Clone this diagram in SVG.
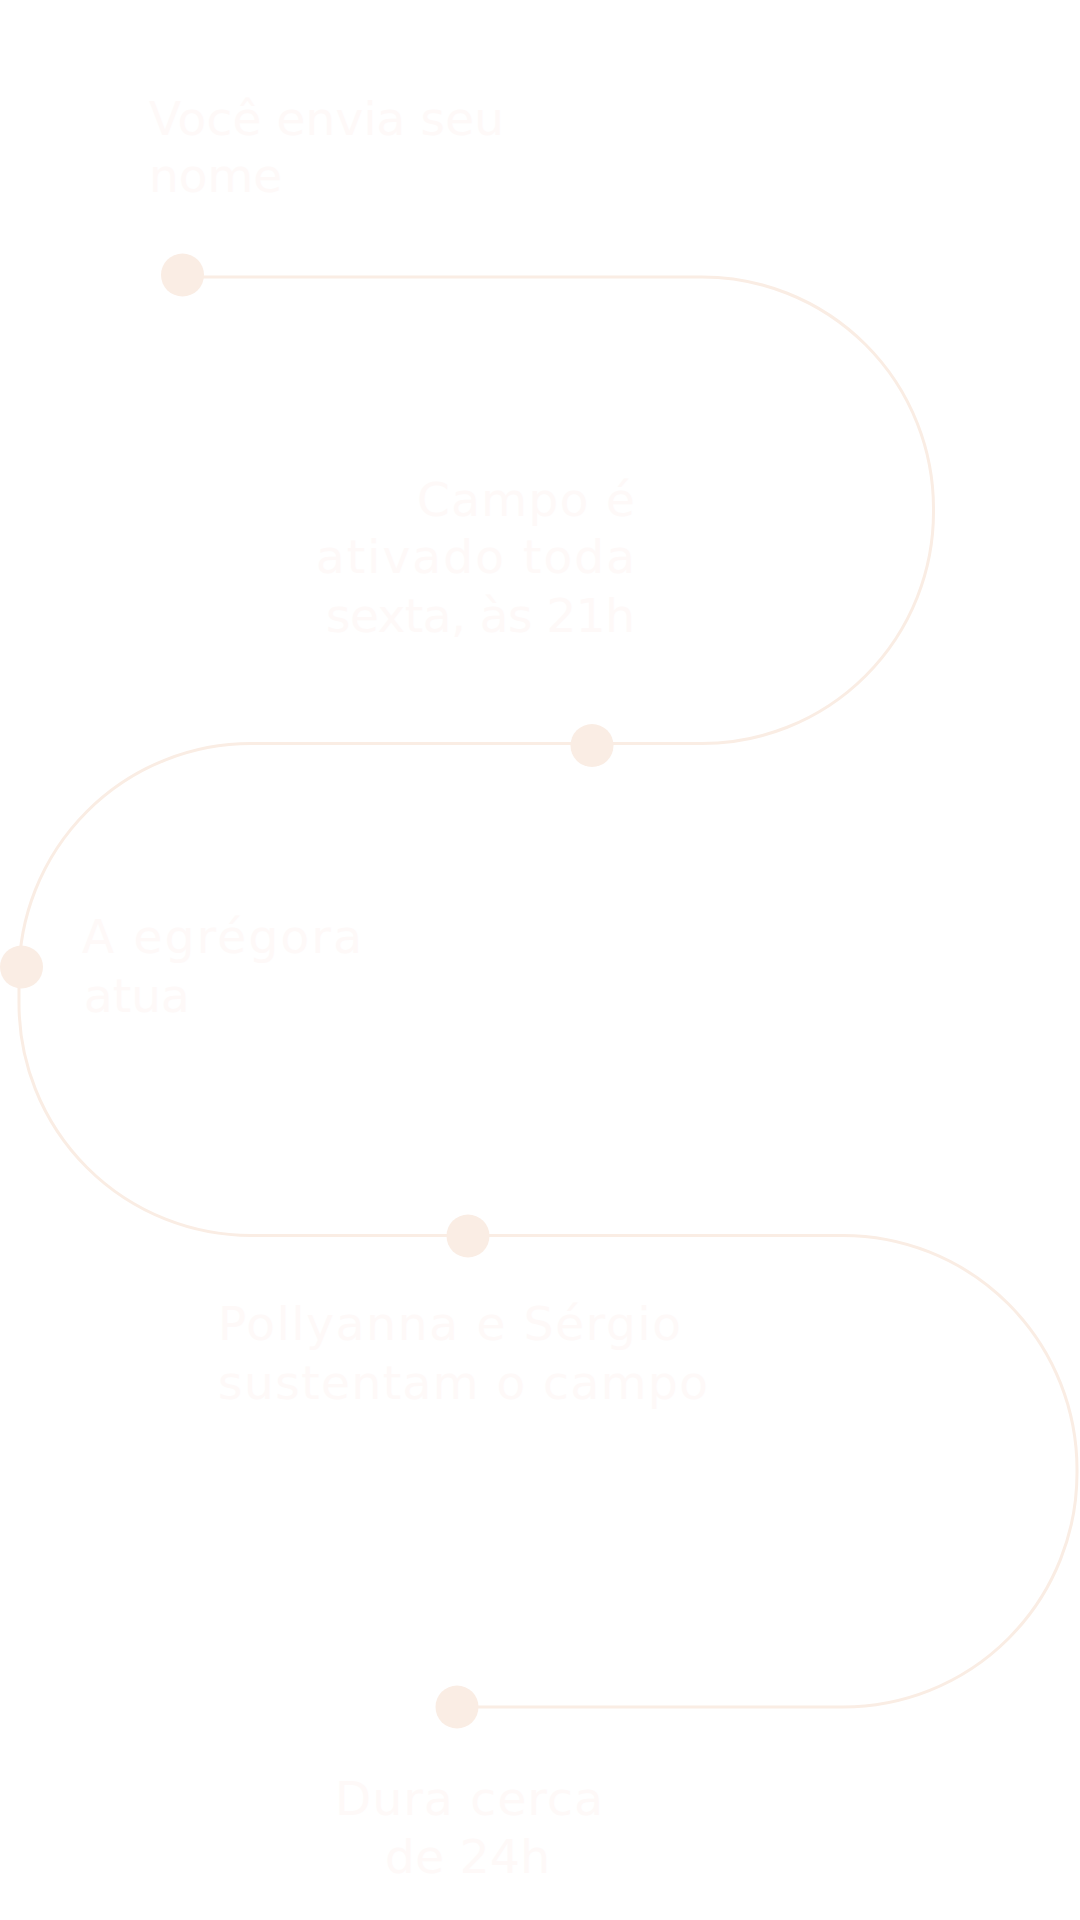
<svg xmlns="http://www.w3.org/2000/svg" width="1080" height="1920" viewBox="0 0 1080 1920">
  <style>
    .track { fill: none; stroke: #FAEDE4; stroke-width: 3; }
    .dot { fill: #FAEDE4; }
    .label { font-family: "DejaVu Sans", "Noto Sans", sans-serif; font-size: 47px; fill: #FEF9F8; }
  </style>
  <rect width="1080" height="1920" fill="#FFFFFF"/>
  <g id="connectors">
    <path class="track" d="M 182 277 H 702 A 231.5 231.5 0 0 1 933.5 508.5 V 512 A 231.5 231.5 0 0 1 702 743.5 H 251 A 232 232 0 0 0 19 975.5 V 1003.5 A 232 232 0 0 0 251 1235.5 H 843 A 234 234 0 0 1 1077 1469.5 V 1473 A 234 234 0 0 1 843 1707 H 457"/>
  </g>
  <g id="step1">
    <circle class="dot" cx="182.5" cy="275" r="21.5"/>
    <text class="label" x="149" y="135" textLength="355">Você envia seu</text>
    <text class="label" x="149" y="192">nome</text>
  </g>
  <g id="step2">
    <circle class="dot" cx="592" cy="745.5" r="21.5"/>
    <text class="label" x="417" y="516" textLength="218">Campo é</text>
    <text class="label" x="316" y="573" textLength="319">ativado toda</text>
    <text class="label" x="326" y="632" textLength="309">sexta, às 21h</text>
  </g>
  <g id="step3">
    <circle class="dot" cx="21.5" cy="967" r="21.5"/>
    <text class="label" x="82" y="953" textLength="280">A egrégora</text>
    <text class="label" x="84" y="1012">atua</text>
  </g>
  <g id="step4">
    <circle class="dot" cx="468" cy="1236" r="21.5"/>
    <text class="label" x="218" y="1340" textLength="463">Pollyanna e Sérgio</text>
    <text class="label" x="218" y="1399" textLength="490">sustentam o campo</text>
  </g>
  <g id="step5">
    <circle class="dot" cx="457" cy="1707" r="21.5"/>
    <text class="label" x="335" y="1815" textLength="268">Dura cerca</text>
    <text class="label" x="385" y="1873" textLength="165">de 24h</text>
  </g>
</svg>
